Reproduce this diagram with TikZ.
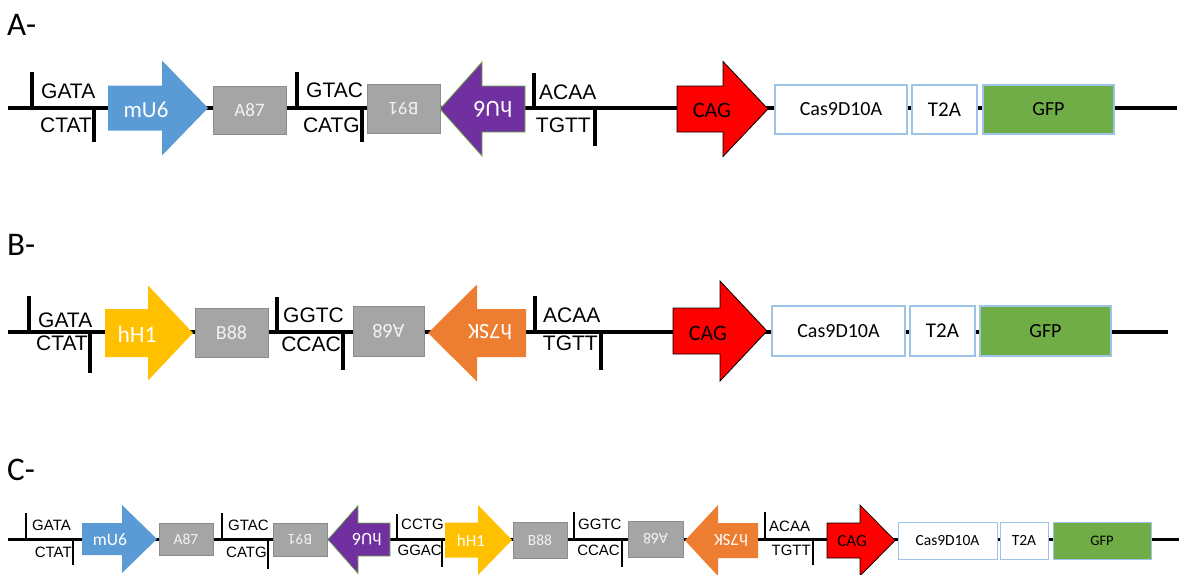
\documentclass[tikz,border=0pt]{standalone}
\usepackage{fontspec}
\setmainfont{Carlito}
\newfontfamily\arialf{Liberation Sans}
\newcommand{\fsz}[1]{\fontsize{#1}{#1}\selectfont}
\definecolor{mublue}{HTML}{5B9BD5}
\definecolor{boxgray}{HTML}{A5A5A5}
\definecolor{graydraw}{HTML}{8C8C8C}
\definecolor{offwhite}{HTML}{F2F2F2}
\definecolor{hupurple}{HTML}{7030A0}
\definecolor{hugreen}{HTML}{70AD47}
\definecolor{hhyellow}{HTML}{FFC000}
\definecolor{skorange}{HTML}{ED7D31}
\definecolor{cagred}{HTML}{FF0000}
\definecolor{gfpgreen}{HTML}{70AD47}
\definecolor{casblue}{HTML}{9DC3E6}
% right-pointing arrow: x0, xb, xt, ym, half body, half head, style
\newcommand{\rarrow}[7]{%
  \path[#7] ({#1},{#4-#5}) -- ({#2},{#4-#5}) -- ({#2},{#4-#6}) -- ({#3},{#4}) --
    ({#2},{#4+#6}) -- ({#2},{#4+#5}) -- ({#1},{#4+#5}) -- cycle;}
% left-pointing arrow: xtip, xb, x1, ym, half body, half head, style
\newcommand{\larrow}[7]{%
  \path[#7] ({#3},{#4-#5}) -- ({#2},{#4-#5}) -- ({#2},{#4-#6}) -- ({#1},{#4}) --
    ({#2},{#4+#6}) -- ({#2},{#4+#5}) -- ({#3},{#4+#5}) -- cycle;}
\begin{document}
\begin{tikzpicture}[x=1pt,y=-1pt,
  backbone/.style={line width=3.6, black},
  backboneC/.style={line width=3, black},
  tickmark/.style={line width=3.4, black},
  tickmarkC/.style={line width=2.8, black},
  seqlbl/.style={font=\arialf\fsz{21}, inner sep=0},
  seqlblC/.style={font=\arialf\fsz{15}, inner sep=0},
  title/.style={font=\fsz{33}, inner sep=0, anchor=west},
  graybox/.style={fill=boxgray, draw=graydraw, line width=0.8, inner sep=0, text=offwhite},
  casbox/.style={fill=white, draw=casblue, line width=1.2, inner sep=0, text=black},
  gfpbox/.style={fill=gfpgreen, draw=casblue, line width=1.2, inner sep=0, text=black},
  arrtext/.style={inner sep=0, text=white},
  blk/.style={inner sep=0, text=black}]
\useasboundingbox (0,0) rectangle (1186,574);

% ================= Row A =================
\node[title] (tA) at (7,25) {A-};
\coordinate (As) at (8,108); \coordinate (Ae) at (1177,108);
\draw[backbone] (As) -- (Ae);
\draw[tickmark] (32,72) -- (32,108);
\draw[tickmark] (94,108) -- (94,142);
\node[seqlbl, anchor=base west] (a1t) at (41,98) {GATA};
\node[seqlbl, anchor=base east] (a1b) at (92,132) {CTAT};
\rarrow{108}{162}{208}{108}{22.5}{47.5}{fill=mublue}
\node[arrtext, font=\fsz{23}] (AmU6) at (146,110) {mU6};
\node[graybox, minimum width=73, minimum height=48, font=\fsz{19}] (AA87) at (249.5,110) {A87};
\draw[tickmark] (297,72) -- (297,108);
\draw[tickmark] (362,108) -- (362,142);
\node[seqlbl, anchor=base west] (a2t) at (306,97) {GTAC};
\node[seqlbl, anchor=base east] (a2b) at (360,132) {CATG};
\node[graybox, minimum width=73, minimum height=49, font=\fsz{19}, rotate=180] (AB91) at (403.5,108.5) {B91};
\larrow{440}{482}{525}{109}{23}{47}{fill=hupurple, draw=hugreen, line width=0.8}
\node[arrtext, font=\fsz{23}, rotate=180] (AhU6) at (493,109) {hU6};
\draw[tickmark] (534,73) -- (534,108);
\draw[tickmark] (595,108) -- (595,146);
\node[seqlbl, anchor=base west] (a3t) at (539,99) {ACAA};
\node[seqlbl, anchor=base east] (a3b) at (591,132) {TGTT};
\rarrow{677}{723}{768}{109}{23}{47.5}{fill=cagred, draw=black, line width=0.8}
\node[blk, font=\fsz{22}] (ACAG) at (712,110) {CAG};
\node[casbox, minimum width=132, minimum height=49, font=\fsz{20}] (ACas) at (841,109.5) {Cas9D10A};
\node[casbox, minimum width=65, minimum height=49, font=\fsz{21}] (AT2A) at (944.5,109.5) {T2A};
\node[gfpbox, minimum width=131, minimum height=49, font=\fsz{20}] (AGFP) at (1048.5,109.5) {GFP};

% ================= Row B =================
\node[title] (tB) at (7,245) {B-};
\coordinate (Bs) at (8,332); \coordinate (Be) at (1168,332);
\draw[backbone] (Bs) -- (Be);
\draw[tickmark] (29,296) -- (29,332);
\draw[tickmark] (90,332) -- (90,373);
\node[seqlbl, anchor=base west] (b1t) at (38,327) {GATA};
\node[seqlbl, anchor=base east] (b1b) at (88,350) {CTAT};
\rarrow{105}{148}{193}{333}{24}{47.5}{fill=hhyellow}
\node[arrtext, font=\fsz{23.5}] (BhH1) at (137,334) {hH1};
\node[graybox, minimum width=73, minimum height=49, font=\fsz{20}] (BB88) at (231.5,332.5) {B88};
\draw[tickmark] (277,297) -- (277,332);
\draw[tickmark] (343,332) -- (343,370);
\node[seqlbl, anchor=base west] (b2t) at (283,322) {GGTC};
\node[seqlbl, anchor=base east] (b2b) at (341,351) {CCAC};
\node[graybox, minimum width=71, minimum height=50, font=\fsz{20}, rotate=180] (BA68) at (388.5,331) {A68};
\larrow{428}{477}{526}{333}{24}{48.5}{fill=skorange}
\node[arrtext, font=\fsz{22}, rotate=180] (Bh7SK) at (490,332) {h7SK};
\draw[tickmark] (535,296) -- (535,332);
\draw[tickmark] (601,332) -- (601,370);
\node[seqlbl, anchor=base west] (b3t) at (543,322) {ACAA};
\node[seqlbl, anchor=base east] (b3b) at (598,350) {TGTT};
\rarrow{673}{720}{767}{331}{23}{50}{fill=cagred, draw=black, line width=0.8}
\node[blk, font=\fsz{22}] (BCAG) at (708,333) {CAG};
\node[casbox, minimum width=133, minimum height=50, font=\fsz{20}] (BCas) at (838.5,331) {Cas9D10A};
\node[casbox, minimum width=65, minimum height=50, font=\fsz{21}] (BT2A) at (942.5,331) {T2A};
\node[gfpbox, minimum width=131, minimum height=50, font=\fsz{20}] (BGFP) at (1045.5,331) {GFP};

% ================= Row C =================
\node[title] (tC) at (7,470) {C-};
\coordinate (Cs) at (8,539); \coordinate (Ce) at (1179,539);
\draw[backboneC] (Cs) -- (Ce);
\draw[tickmarkC] (26,513) -- (26,539);
\draw[tickmarkC] (73,539) -- (73,565);
\node[seqlblC, anchor=base west] (c1t) at (32,530) {GATA};
\node[seqlblC, anchor=base east] (c1b) at (72,557) {CTAT};
\rarrow{82}{122}{157}{539}{16}{34}{fill=mublue}
\node[arrtext, font=\fsz{17.5}] (CmU6) at (110,540) {mU6};
\node[graybox, minimum width=54, minimum height=32, font=\fsz{15.5}] (CA87) at (186,539) {A87};
\draw[tickmarkC] (222,513) -- (222,539);
\draw[tickmarkC] (268,539) -- (268,569);
\node[seqlblC, anchor=base west] (c2t) at (228,530) {GTAC};
\node[seqlblC, anchor=base east] (c2b) at (267,557) {CATG};
\node[graybox, minimum width=54, minimum height=33, font=\fsz{15.5}, rotate=180] (CB91) at (300,539.5) {B91};
\larrow{328}{358}{390}{539.5}{16.5}{34}{fill=hupurple, draw=hugreen, line width=0.7}
\node[arrtext, font=\fsz{17.5}, rotate=180] (ChU6) at (367,540) {hU6};
\draw[tickmarkC] (397,514) -- (397,539);
\draw[tickmarkC] (442,539) -- (442,567);
\node[seqlblC, anchor=base west] (c3t) at (401,529) {CCTG};
\node[seqlblC, anchor=base east] (c3b) at (442,555) {GGAC};
\rarrow{445}{478}{512}{540}{17.5}{35}{fill=hhyellow}
\node[arrtext, font=\fsz{17}] (ChH1) at (471,541) {hH1};
\node[graybox, minimum width=54, minimum height=36, font=\fsz{15.5}] (CB88) at (540,540) {B88};
\draw[tickmarkC] (574,512) -- (574,539);
\draw[tickmarkC] (622,539) -- (622,567);
\node[seqlblC, anchor=base west] (c4t) at (578,529) {GGTC};
\node[seqlblC, anchor=base east] (c4b) at (620,555) {CCAC};
\node[graybox, minimum width=55, minimum height=36, font=\fsz{15.5}, rotate=180] (CA68) at (655.5,539) {A68};
\larrow{685}{718}{758}{540.5}{17.5}{35.5}{fill=skorange}
\node[arrtext, font=\fsz{17}, rotate=180] (Ch7SK) at (731,540) {h7SK};
\draw[tickmarkC] (765,512) -- (765,539);
\draw[tickmarkC] (813,539) -- (813,565);
\node[seqlblC, anchor=base west] (c5t) at (769,531) {ACAA};
\node[seqlblC, anchor=base east] (c5b) at (811,555) {TGTT};
\rarrow{827}{860}{895}{540.5}{17.5}{35.5}{fill=cagred, draw=black, line width=0.7}
\node[blk, font=\fsz{17}] (CCAG) at (852,541) {CAG};
\node[casbox, minimum width=99, minimum height=37, line width=1, font=\fsz{15.5}] (CCas) at (947.5,540.5) {Cas9D10A};
\node[casbox, minimum width=48, minimum height=37, line width=1, font=\fsz{15.5}] (CT2A) at (1024,540.5) {T2A};
\node[gfpbox, minimum width=98, minimum height=37, line width=1, font=\fsz{14.5}] (CGFP) at (1102,540.5) {GFP};
\end{tikzpicture}
\end{document}
